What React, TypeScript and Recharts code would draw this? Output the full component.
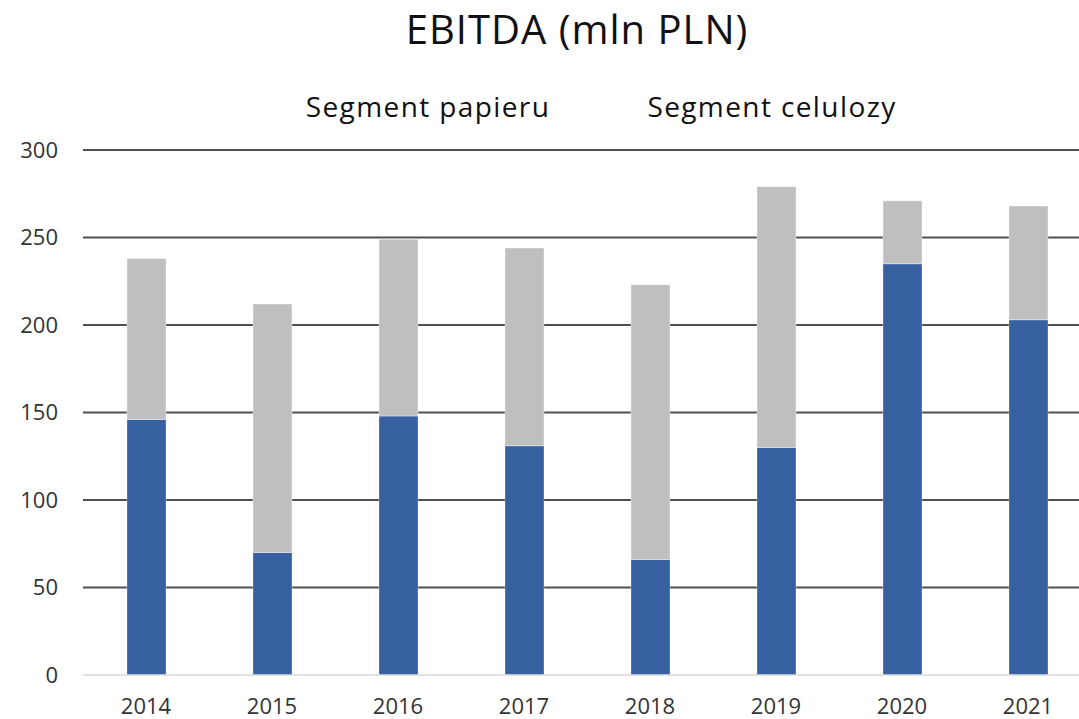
import { BarChart, Bar, XAxis, YAxis, CartesianGrid } from 'recharts';

const years = ['2014', '2015', '2016', '2017', '2018', '2019', '2020', '2021'];
const papier = [146, 70, 148, 131, 66, 130, 235, 203];
const celuloza = [92, 142, 101, 113, 157, 149, 36, 65];
const yTicks = [0, 50, 100, 150, 200, 250, 300];

const seriesNames = ['Segment papieru', 'Segment celulozy'];
const seriesColors = ['#36609f', '#bfbfbf'];

const data = years.map((year, i) => ({
  year,
  papier: papier[i],
  celuloza: celuloza[i],
}));

const font = '"Open Sans", sans-serif';

export default function App() {
  return (
    <div
      style={{
        position: 'absolute',
        left: 0,
        top: 0,
        width: 1079,
        height: 719,
        overflow: 'hidden',
        background: '#fff',
        fontFamily: font,
      }}
    >
      <BarChart
        width={1100}
        height={719}
        data={data}
        margin={{ top: 150, right: 9, bottom: 14, left: 23 }}
        barSize={39}
      >
        <CartesianGrid
          vertical={false}
          horizontalValues={[50, 100, 150, 200, 250, 300]}
          stroke="#505050"
          strokeWidth={2}
        />
        <XAxis
          dataKey="year"
          height={30}
          tickLine={false}
          tickSize={0}
          tickMargin={23}
          axisLine={{ stroke: '#d9d9d9', strokeWidth: 1.5 }}
          tick={{ fontSize: 22, fill: '#333', fontFamily: font }}
        />
        <YAxis
          width={60}
          domain={[0, 300]}
          ticks={yTicks}
          axisLine={false}
          tickLine={false}
          tickSize={0}
          tickMargin={25}
          tick={{ fontSize: 22, fill: '#333', fontFamily: font }}
        />
        <Bar
          dataKey="papier"
          name={seriesNames[0]}
          stackId="a"
          fill={seriesColors[0]}
          stroke="#ffffff"
          strokeOpacity={0.3}
          isAnimationActive={false}
        />
        <Bar
          dataKey="celuloza"
          name={seriesNames[1]}
          stackId="a"
          fill={seriesColors[1]}
          stroke="#ffffff"
          strokeOpacity={0.4}
          isAnimationActive={false}
        />
      </BarChart>

      {/* title and legend (legend has no markers in the original) */}
      <svg
        width={1079}
        height={140}
        style={{ position: 'absolute', left: 0, top: 0, pointerEvents: 'none' }}
      >
        <text
          x={577}
          y={44}
          textAnchor="middle"
          fontSize={40}
          letterSpacing={1}
          fill="#111"
          fontFamily={font}
        >
          EBITDA (mln PLN)
        </text>
        {seriesNames.map((name, i) => (
          <text
            key={name}
            x={i === 0 ? 428 : 772}
            y={117}
            textAnchor="middle"
            fontSize={28}
            letterSpacing={1.4}
            fill="#111"
            fontFamily={font}
          >
            {name}
          </text>
        ))}
      </svg>
    </div>
  );
}
